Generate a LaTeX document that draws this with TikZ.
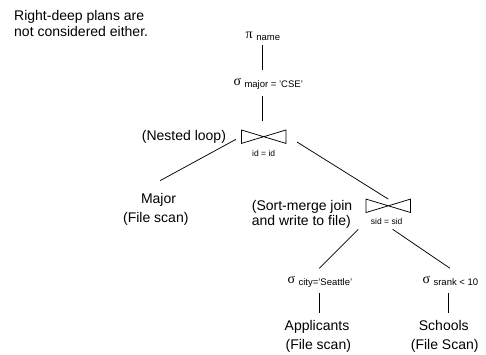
\documentclass[tikz,border=0pt]{standalone}
\usepackage{fontspec}
\setmainfont{Liberation Sans}
\newfontfamily\symf{Liberation Serif}
\begin{document}
\begin{tikzpicture}[x=1pt,y=-1pt,
  txt/.style={inner sep=0pt, font=\fontsize{14}{16}\selectfont, anchor=base},
  lbl/.style={inner sep=0pt, font=\fontsize{8.5}{10}\selectfont, anchor=base},
  op/.style={inner sep=0pt, font=\fontsize{14}{16}\selectfont, anchor=base west},
  joinbox/.style={draw=none, inner sep=0pt, minimum width=44pt, minimum height=13pt},
  edge/.style={line width=0.75pt, black}]
\newcommand{\mysubs}[1]{\hspace{3.5pt}\raisebox{-2.3pt}{\fontsize{9.5}{11}\selectfont #1}}
\newcommand{\mybowtie}[1]{\draw[edge, line join=miter] (#1.north west) -- (#1.center) -- (#1.north east) -- (#1.south east) -- (#1.center) -- (#1.south west) -- cycle;}
\useasboundingbox (0,0) rectangle (486,354);

% note
\node[txt, anchor=base west] (note1) at (14,20.5) {Right-deep plans are};
\node[txt, anchor=base west] (note2) at (14,36.5) {not considered either.};

% projection and selection
\node[op] (pi) at (245.5,38.5) {{\symf π}\mysubs{name}};
\node[op] (sig) at (233.3,85) {{\symf σ}\mysubs{major = 'CSE'}};
\coordinate (pib) at (262,45);
\coordinate (sigt) at (262,70);
\coordinate (sigb) at (262,96);
\coordinate (j1t) at (262,121);
\draw[edge] (pib) -- (sigt);
\draw[edge] (sigb) -- (j1t);

% join 1
\node[joinbox] (j1) at (263.7,136.7) {};
\mybowtie{j1}
\node[lbl] (j1l) at (263.7,156) {id = id};
\node[txt, anchor=base west] (nl) at (141.7,140) {(Nested loop)};

% Major
\node[txt] (major) at (158.5,203) {Major};
\node[txt] (majfs) at (155.8,222) {(File scan)};
\coordinate (j1a) at (236,139.3);
\coordinate (majt) at (160,180.7);
\draw[edge] (j1a) -- (majt);

% join 2
\node[joinbox] (j2) at (388.3,205.8) {};
\mybowtie{j2}
\node[lbl] (j2l) at (386.7,224) {sid = sid};
\node[txt, anchor=base west] (sm1) at (251.7,210) {(Sort-merge join};
\node[txt, anchor=base west] (sm2) at (251.7,225.7) {and write to file)};
\coordinate (j1b) at (297,142);
\draw[edge] (j1b) -- (j2.north);

% selections below join 2
\node[op] (sc) at (287.3,283) {{\symf σ}\mysubs{city='Seattle'}};
\node[op] (ss) at (422.3,283) {{\symf σ}\mysubs{srank < 10}};
\coordinate (j2a) at (358.3,229.3);
\coordinate (sct) at (319.3,268.3);
\coordinate (j2b) at (392.7,229.3);
\coordinate (sst) at (450,268.3);
\draw[edge] (j2a) -- (sct);
\draw[edge] (j2b) -- (sst);

% relations
\coordinate (scb) at (319.8,293.3);
\coordinate (appt) at (319.8,312.7);
\coordinate (ssb) at (448.8,293.3);
\coordinate (scht) at (448.8,312.7);
\draw[edge] (scb) -- (appt);
\draw[edge] (ssb) -- (scht);
\node[txt] (app) at (317,330.7) {Applicants};
\node[txt] (appfs) at (318.3,349) {(File scan)};
\node[txt] (sch) at (443.8,330.7) {Schools};
\node[txt] (schfs) at (444.7,349) {(File Scan)};
\end{tikzpicture}
\end{document}
